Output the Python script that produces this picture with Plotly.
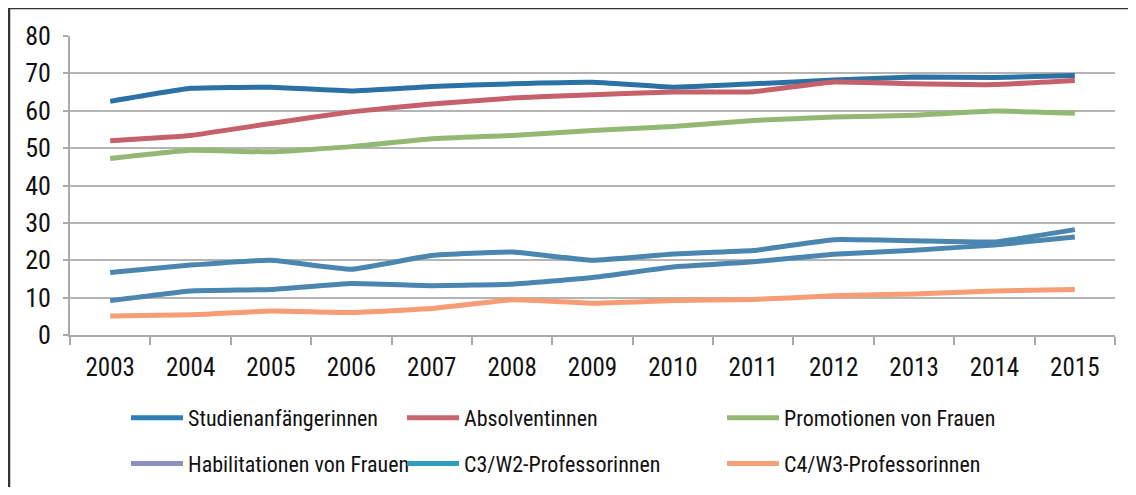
import plotly.graph_objects as go

years = ["2003", "2004", "2005", "2006", "2007", "2008", "2009", "2010", "2011", "2012", "2013", "2014", "2015"]
y_ticks = [0, 10, 20, 30, 40, 50, 60, 70, 80]

studienanfaengerinnen = [62.5, 66.0, 66.3, 65.3, 66.5, 67.2, 67.6, 66.3, 67.2, 68.2, 69.0, 68.9, 69.4]
absolventinnen = [52.0, 53.4, 56.6, 59.7, 61.8, 63.4, 64.3, 65.0, 65.1, 67.7, 67.2, 67.0, 68.1]
promotionen = [47.2, 49.4, 49.0, 50.4, 52.5, 53.4, 54.7, 55.8, 57.4, 58.3, 58.8, 59.9, 59.3]
habilitationen = [16.7, 18.7, 20.0, 17.6, 21.3, 22.2, 20.0, 21.7, 22.6, 25.5, 25.2, 24.9, 28.2]
c3w2 = [9.2, 11.8, 12.2, 13.8, 13.2, 13.6, 15.4, 18.2, 19.6, 21.6, 22.7, 24.1, 26.2]
c4w3 = [5.1, 5.4, 6.4, 6.0, 7.1, 9.4, 8.5, 9.2, 9.5, 10.5, 11.0, 11.8, 12.2]

names = ["Studienanfängerinnen", "Absolventinnen", "Promotionen von Frauen",
         "Habilitationen von Frauen", "C3/W2-Professorinnen", "C4/W3-Professorinnen"]
series = [studienanfaengerinnen, absolventinnen, promotionen, habilitationen, c3w2, c4w3]
line_colors = ["#2a71a6", "#c6606a", "#93b873", "#4a86b0", "#4a86b0", "#f89c76"]
legend_colors = ["#2f7fb6", "#c8666f", "#96b877", "#8e8fbf", "#2e9dc0", "#f8a07a"]
legend_ids = ["legend", "legend2", "legend3", "legend", "legend2", "legend3"]

FONT = "Liberation Sans Narrow, Roboto Condensed, Arial Narrow, Roboto, sans-serif"

fig = go.Figure()
for name, vals, col in zip(names, series, line_colors):
    fig.add_trace(go.Scatter(x=years, y=vals, mode="lines", name=name, showlegend=False,
                             line=dict(color=col, width=5, shape="spline", smoothing=0.35)))
for i, (name, col, lg) in enumerate(zip(names, legend_colors, legend_ids)):
    fig.add_trace(go.Scatter(x=[None], y=[None], mode="lines", name=name, legend=lg,
                             legendgroup=f"g{i}", line=dict(color=col, width=5)))

# The page body has an 8px margin, so the figure is drawn 8px smaller on each axis
# and positions below are given in screen pixels (offset by 8).
OFF = 8
W, H = 1136 - 2 * OFF, 495 - 2 * OFF
PL, PT, PR, PB = 70, 36, 1115, 335          # plot area in screen pixels
L, T = PL - OFF, PT - OFF
R, B = W - (PR - OFF), H - (PB - OFF)
pw, ph = PR - PL, PB - PT
def px(x):
    return (x - PL) / pw
def py(y):
    return (PB - y) / ph

leg_common = dict(orientation="v", xanchor="left", yanchor="top", bgcolor="rgba(0,0,0,0)",
                  font=dict(family=FONT, size=22, color="#111111"), tracegroupgap=14,
                  itemwidth=52, traceorder="grouped")

fig.update_layout(
    width=W, height=H,
    margin=dict(l=L, r=R, t=T, b=B, autoexpand=False),
    paper_bgcolor="white", plot_bgcolor="white",
    font=dict(family=FONT, size=22, color="#111111"),
    xaxis=dict(type="category", tickson="boundaries", ticks="outside", ticklen=8, tickwidth=2,
               tickcolor="#aaaaaa", showline=True, linecolor="#aaaaaa", linewidth=2,
               showgrid=False, tickfont=dict(family=FONT, size=25, color="#111111"),
               ticklabelstandoff=9, range=[-0.5, 12.5], fixedrange=True, automargin=False),
    yaxis=dict(range=[0, 80], tickvals=y_ticks, ticks="outside", ticklen=5, tickwidth=2,
               tickcolor="#aaaaaa", showline=True, linecolor="#aaaaaa", linewidth=2,
               showgrid=True, gridcolor="#b4b4b4", gridwidth=2, zeroline=False,
               tickfont=dict(family=FONT, size=26, color="#111111"), ticklabelstandoff=7,
               fixedrange=True, automargin=False),
    legend=dict(x=px(126), y=py(397), **leg_common),
    legend2=dict(x=px(402), y=py(397), **leg_common),
    legend3=dict(x=px(722), y=py(397), **leg_common),
    shapes=[dict(type="rect", xref="paper", yref="paper", x0=px(9), x1=px(1150), y0=py(520), y1=py(8),
                 line=dict(color="#333333", width=2.5), fillcolor="rgba(0,0,0,0)", layer="below")],
)

fig.write_html("out.html", config={"displayModeBar": False, "responsive": False})
